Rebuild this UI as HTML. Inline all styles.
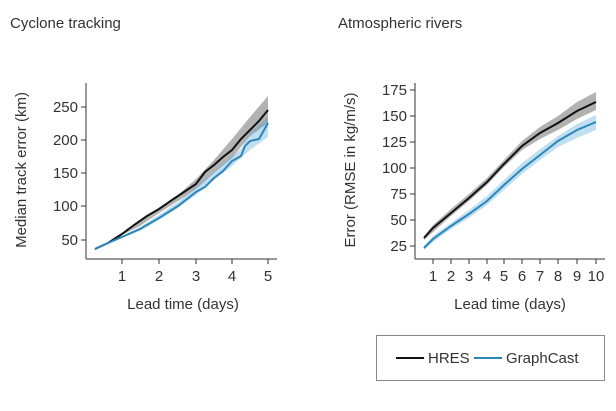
<!DOCTYPE html>
<html><head><meta charset="utf-8"><style>
body{margin:0;background:#fff;width:616px;height:406px;overflow:hidden;font-family:"Liberation Sans",sans-serif}
svg text{font-family:"Liberation Sans",sans-serif;fill:#333}
</style></head><body>
<svg width="616" height="406" viewBox="0 0 616 406" xmlns="http://www.w3.org/2000/svg">
<text x="10" y="28" font-size="15" fill="#222">Cyclone tracking</text>
<text x="338" y="28" font-size="15" fill="#222">Atmospheric rivers</text>

<!-- Left chart -->
<g>
<path d="M95,249 L108,242 L122,233 L140,221 L159,208 L178,195 L196,179 L214,160 L232,139 L250,117 L268,96 L268,123 L250,136 L232,158 L214,173 L196,189 L178,201 L159,213 L140,226 L122,235 L108,243 L95,250Z" fill="#555" opacity="0.45"/>
<path d="M95,249 L108,243 L122,236 L140,227 L159,215 L178,202 L196,187 L214,172 L232,156 L241,149 L250,133 L268,117 L268,137 L250,150 L241,158 L232,166 L214,180 L196,195 L178,208 L159,220 L140,231 L122,238 L108,244 L95,250Z" fill="#4fa3d6" opacity="0.35"/>
<polyline points="95,249 108,243 122,234 134,225 147,216 159,209 172,200 184,192 196,184 205,172 214,165 223,157 232,150 241,139 250,130 259,121 268,110" fill="none" stroke="#111" stroke-width="2"/>
<polyline points="95,249 108,243 122,237 140,229 159,218 178,206 196,192 205,187 214,178 223,171 232,161 241,156 245,146 250,141 259,139 268,123" fill="none" stroke="#2a87bb" stroke-width="2"/>
<line x1="86" y1="83" x2="86" y2="259" stroke="#333" stroke-width="1"/>
<line x1="86" y1="259" x2="277" y2="259" stroke="#333" stroke-width="1"/>
<g stroke="#333"><line x1="122" y1="259" x2="122" y2="264"/><line x1="159" y1="259" x2="159" y2="264"/><line x1="196" y1="259" x2="196" y2="264"/><line x1="232" y1="259" x2="232" y2="264"/><line x1="268" y1="259" x2="268" y2="264"/>
<line x1="81" y1="107" x2="86" y2="107"/><line x1="81" y1="140" x2="86" y2="140"/><line x1="81" y1="173" x2="86" y2="173"/><line x1="81" y1="206" x2="86" y2="206"/><line x1="81" y1="240" x2="86" y2="240"/></g>
<g font-size="15" text-anchor="middle"><text x="122" y="281">1</text><text x="159" y="281">2</text><text x="196" y="281">3</text><text x="232" y="281">4</text><text x="268" y="281">5</text></g>
<g font-size="15" text-anchor="end"><text x="78" y="112">250</text><text x="78" y="145">200</text><text x="78" y="178">150</text><text x="78" y="211">100</text><text x="78" y="245">50</text></g>
<text x="183" y="309" font-size="15" text-anchor="middle">Lead time (days)</text>
<text transform="translate(26,170) rotate(-90)" font-size="15" text-anchor="middle">Median track error (km)</text>
</g>

<!-- Right chart -->
<g>
<path d="M424,236 L433,225 L451,209 L469,194 L487,178 L504,160 L522,141 L540,127 L558,116 L577,102 L596,92 L596,110 L577,119 L558,130 L540,139 L522,150 L504,167 L487,185 L469,201 L451,216 L433,232 L424,240Z" fill="#555" opacity="0.45"/>
<path d="M424,246 L433,236 L451,223 L469,210 L487,196 L504,180 L522,163 L540,149 L558,136 L577,124 L596,115 L596,130 L577,138 L558,147 L540,160 L522,174 L504,190 L487,205 L469,218 L451,229 L433,242 L424,250Z" fill="#4fa3d6" opacity="0.35"/>
<polyline points="424,238 433,228 451,213 469,198 487,182 504,164 522,146 540,133 558,123 577,111 596,102" fill="none" stroke="#111" stroke-width="2"/>
<polyline points="424,248 433,239 451,226 469,214 487,201 504,185 522,169 540,155 558,141 577,130 596,122" fill="none" stroke="#2a87bb" stroke-width="2"/>
<line x1="415" y1="83" x2="415" y2="259" stroke="#333" stroke-width="1"/>
<line x1="415" y1="259" x2="605" y2="259" stroke="#333" stroke-width="1"/>
<g stroke="#333">
<line x1="433" y1="259" x2="433" y2="264"/><line x1="451" y1="259" x2="451" y2="264"/><line x1="469" y1="259" x2="469" y2="264"/><line x1="487" y1="259" x2="487" y2="264"/><line x1="504" y1="259" x2="504" y2="264"/><line x1="522" y1="259" x2="522" y2="264"/><line x1="540" y1="259" x2="540" y2="264"/><line x1="558" y1="259" x2="558" y2="264"/><line x1="577" y1="259" x2="577" y2="264"/><line x1="596" y1="259" x2="596" y2="264"/>
<line x1="410" y1="90" x2="415" y2="90"/><line x1="410" y1="116" x2="415" y2="116"/><line x1="410" y1="142" x2="415" y2="142"/><line x1="410" y1="168" x2="415" y2="168"/><line x1="410" y1="194" x2="415" y2="194"/><line x1="410" y1="220" x2="415" y2="220"/><line x1="410" y1="246" x2="415" y2="246"/></g>
<g font-size="15" text-anchor="middle"><text x="433" y="281">1</text><text x="451" y="281">2</text><text x="469" y="281">3</text><text x="487" y="281">4</text><text x="504" y="281">5</text><text x="522" y="281">6</text><text x="540" y="281">7</text><text x="558" y="281">8</text><text x="577" y="281">9</text><text x="596" y="281">10</text></g>
<g font-size="15" text-anchor="end"><text x="407" y="95">175</text><text x="407" y="121">150</text><text x="407" y="147">125</text><text x="407" y="173">100</text><text x="407" y="199">75</text><text x="407" y="225">50</text><text x="407" y="251">25</text></g>
<text x="510" y="309" font-size="15" text-anchor="middle">Lead time (days)</text>
<text transform="translate(355,170) rotate(-90)" font-size="15" text-anchor="middle">Error (RMSE in kg/m/s)</text>
</g>

<!-- Legend -->
<rect x="376.5" y="335.5" width="228" height="45" fill="#fff" stroke="#888"/>
<line x1="396" y1="358" x2="424" y2="358" stroke="#111" stroke-width="2"/>
<text x="428" y="363" font-size="15" fill="#222">HRES</text>
<line x1="474" y1="358" x2="502" y2="358" stroke="#2a87bb" stroke-width="2"/>
<text x="506" y="363" font-size="15" fill="#222">GraphCast</text>
</svg>
</body></html>
